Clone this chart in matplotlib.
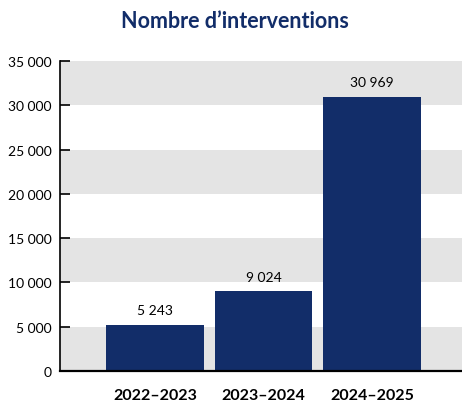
import matplotlib.pyplot as plt
from matplotlib.ticker import FuncFormatter

plt.rcParams['font.family'] = ['Lato', 'DejaVu Sans']

# data
periods = ['2022–2023', '2023–2024', '2024–2025']
interventions = [5243, 9024, 30969]
y_ticks = [0, 5000, 10000, 15000, 20000, 25000, 30000, 35000]

navy = '#122d69'
band_grey = '#e4e4e4'

fig = plt.figure(figsize=(4.62, 4.06), dpi=100)
ax = fig.add_axes([60/462, 34/406, 402/462, 310/406])

# alternating grey bands
for lo, hi in zip(y_ticks[:-1], y_ticks[1:]):
    if (lo // 5000) % 2 == 0:
        ax.axhspan(lo, hi, color=band_grey, lw=0, zorder=0)

x = range(len(periods))
bars = ax.bar(x, interventions, width=0.9, color=navy, zorder=2)

def fmt(v, pos=None):
    return f"{int(v):,}".replace(',', ' ')

for xi, v in zip(x, interventions):
    ax.annotate(fmt(v), (xi, v), xytext=(0, 6), textcoords='offset points',
                ha='center', va='bottom', fontsize=10, color='black')

ax.set_xlim(-0.875, 2.83)
ax.set_ylim(0, 35000)
ax.set_yticks(y_ticks)
ax.yaxis.set_major_formatter(FuncFormatter(fmt))
ax.set_xticks(list(x))
ax.set_xticklabels(periods, fontsize=11.5, fontweight='bold')

ax.tick_params(axis='y', direction='in', length=7.5, width=1.2, pad=6, labelsize=10)
ax.tick_params(axis='x', length=0, pad=12)

for s in ['top', 'right']:
    ax.spines[s].set_visible(False)
ax.spines['left'].set_linewidth(1.2)
ax.spines['bottom'].set_linewidth(1.6)
ax.spines['left'].set_zorder(3)
ax.spines['bottom'].set_zorder(3)

fig.text(235/462, 1 - 22/406, 'Nombre d’interventions', ha='center', va='center',
         fontsize=15.5, fontweight='bold', color=navy)

fig.savefig('out.png', dpi=100)
